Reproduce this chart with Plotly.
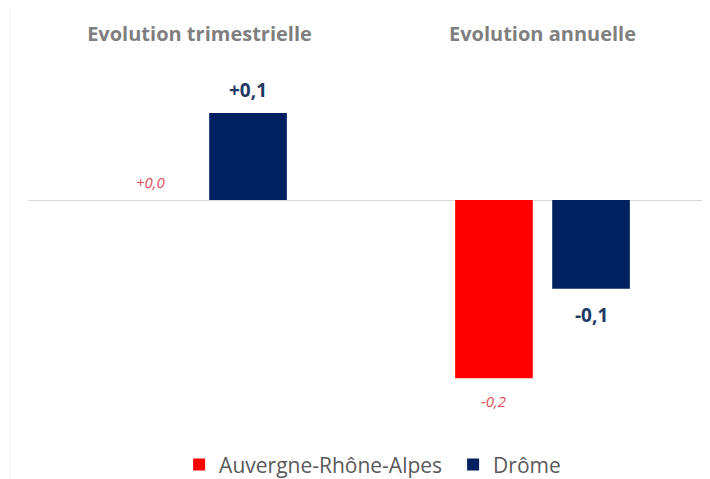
import plotly.graph_objects as go

categories = ["Evolution trimestrielle", "Evolution annuelle"]
ara_values = [0.0, -0.205]
drome_values = [0.1, -0.102]
ara_labels = ["+0,0", "-0,2"]
drome_labels = ["+0,1", "-0,1"]

W, H = 710, 479
ML, MR, MT, MB = 20, 4, 52, 67
BARGAP, GROUPGAP = 0.434, 0.2

fig = go.Figure()
fig.add_trace(go.Bar(
    name="Auvergne-Rhône-Alpes", x=categories, y=ara_values,
    marker=dict(color="#FF0000", line=dict(width=0)),
))
fig.add_trace(go.Bar(
    name="Drôme", x=categories, y=drome_values,
    marker=dict(color="#002060", line=dict(width=0)),
))

# data labels, placed at each bar's end (offset within group derived from bar layout)
cat_px = (W - ML - MR) / len(categories)
slot_px = (1 - BARGAP) * cat_px / 2
series = [
    (ara_values, ara_labels, -slot_px / 2,
     dict(family="Open Sans", size=15, color="#E0505A", style="italic"), 6, 11),
    (drome_values, drome_labels, slot_px / 2,
     dict(family="Open Sans", size=19, color="#1F3864", weight="bold"), 8, 11),
]
for vals, labels, xs, font, pad_up, pad_down in series:
    for c, v, t in zip(categories, vals, labels):
        up = v >= 0
        fig.add_annotation(
            x=c, y=v, xref="x", yref="y", text=t, showarrow=False,
            xshift=xs, yanchor="bottom" if up else "top",
            yshift=pad_up if up else -pad_down, font=font,
        )

fig.update_layout(
    width=W, height=H,
    margin=dict(l=ML, r=MR, t=MT, b=MB),
    paper_bgcolor="white", plot_bgcolor="white",
    barmode="group", bargap=BARGAP, bargroupgap=GROUPGAP,
    font=dict(family="Open Sans", color="#595959"),
    showlegend=True,
    legend=dict(orientation="h", xref="container", yref="container",
                x=0.241, xanchor="left", y=0.046, yanchor="middle",
                font=dict(size=21, color="#595959"), itemwidth=30,
                entrywidth=229, traceorder="normal"),
)
fig.update_xaxes(
    side="top", showline=False, showgrid=False, ticks="",
    tickfont=dict(size=20, color="#7F7F7F", weight="bold"),
    ticklabelstandoff=14, range=[-0.5, 1.5],
)
fig.update_yaxes(
    range=[-0.253, 0.161], showgrid=False, showticklabels=False,
    zeroline=True, zerolinecolor="#D9D9D9", zerolinewidth=1,
)
fig.add_shape(type="line", xref="paper", yref="paper",
              x0=-18 / (W - ML - MR), x1=-18 / (W - ML - MR), y0=-0.2, y1=1.2,
              line=dict(color="#F0F0F0", width=1))

fig.write_html("out.html")
